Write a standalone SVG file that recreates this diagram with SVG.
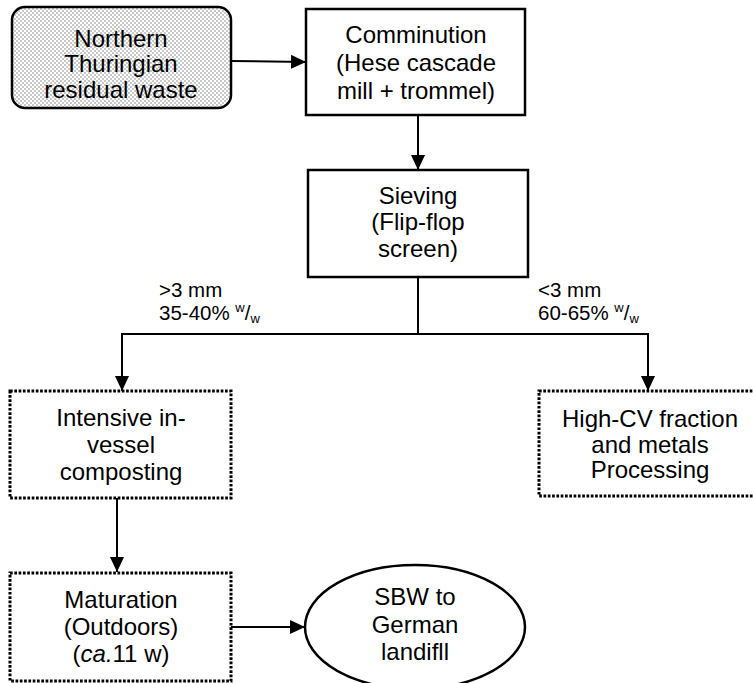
<svg xmlns="http://www.w3.org/2000/svg" width="753" height="683" viewBox="0 0 753 683">
<style>
.t{font-family:"Liberation Sans",Arial,sans-serif;font-size:24px;fill:#000;text-anchor:middle}
.l{font-family:"Liberation Sans",Arial,sans-serif;font-size:20.5px;fill:#000}
.box{fill:#fff;stroke:#000;stroke-width:2.5}
.dot{fill:#fff;stroke:#000;stroke-width:3;stroke-dasharray:2.7 1.6}
.c{fill:none;stroke:#000;stroke-width:2}
</style>
<defs>
<pattern id="stip" width="4" height="4" patternUnits="userSpaceOnUse">
<rect width="4" height="4" fill="#fff"/>
<rect x="0.4" y="0.4" width="1.2" height="1.2" fill="#666"/>
<rect x="2.4" y="2.4" width="1.2" height="1.2" fill="#666"/>
</pattern>
<marker id="ah" viewBox="0 0 15 14" refX="15" refY="7" markerWidth="15" markerHeight="14" markerUnits="userSpaceOnUse" orient="auto">
<path d="M0,0 L15,7 L0,14 Z" fill="#000"/>
</marker>
</defs>
<g id="connectors">
<line class="c" x1="231" y1="61" x2="306" y2="62" marker-end="url(#ah)"/>
<line class="c" x1="418" y1="115" x2="418" y2="170" marker-end="url(#ah)"/>
<polyline class="c" points="418,277 418,334 122,334 122,391" marker-end="url(#ah)"/>
<polyline class="c" points="418,334 648,334 648,391" marker-end="url(#ah)"/>
<line class="c" x1="117" y1="498" x2="117" y2="572" marker-end="url(#ah)"/>
<line class="c" x1="231" y1="627" x2="305" y2="627" marker-end="url(#ah)"/>
</g>
<g id="labels">
<text class="l" x="159" y="297">&gt;3 mm</text>
<text class="l" x="159" y="320">35-40% <tspan font-size="13" dy="-8">w</tspan><tspan dy="8">/</tspan><tspan font-size="13" dy="3">w</tspan></text>
<text class="l" x="538" y="297">&lt;3 mm</text>
<text class="l" x="538" y="320">60-65% <tspan font-size="13" dy="-8">w</tspan><tspan dy="8">/</tspan><tspan font-size="13" dy="3">w</tspan></text>
</g>
<g id="waste">
<rect x="12" y="7" width="219" height="101" rx="13" ry="13" fill="url(#stip)" stroke="#000" stroke-width="2.5"/>
<text class="t" x="121" y="47" fill="#222">Northern</text>
<text class="t" x="121" y="72">Thuringian</text>
<text class="t" x="121" y="98">residual waste</text>
</g>
<g id="comminution">
<rect class="box" x="306" y="9" width="219" height="106"/>
<text class="t" x="416" y="43">Comminution</text>
<text class="t" x="416" y="71">(Hese cascade</text>
<text class="t" x="416" y="99">mill + trommel)</text>
</g>
<g id="sieving">
<rect class="box" x="308" y="170" width="220" height="107"/>
<text class="t" x="418" y="204">Sieving</text>
<text class="t" x="418" y="230">(Flip-flop</text>
<text class="t" x="418" y="257">screen)</text>
</g>
<g id="composting">
<rect class="dot" x="10" y="391" width="221" height="107"/>
<text class="t" x="121" y="426">Intensive in-</text>
<text class="t" x="121" y="453">vessel</text>
<text class="t" x="121" y="480">composting</text>
</g>
<g id="highcv">
<rect class="dot" x="539" y="391" width="222" height="105"/>
<text class="t" x="650" y="427">High-CV fraction</text>
<text class="t" x="650" y="453">and metals</text>
<text class="t" x="650" y="478">Processing</text>
</g>
<g id="maturation">
<rect class="dot" x="10" y="573" width="221" height="108"/>
<text class="t" x="121" y="608">Maturation</text>
<text class="t" x="121" y="635">(Outdoors)</text>
<text class="t" x="121" y="662">(<tspan font-style="italic">ca.</tspan>11 w)</text>
</g>
<g id="landfill">
<ellipse cx="415" cy="627" rx="110" ry="62" fill="#fff" stroke="#000" stroke-width="2.5"/>
<text class="t" x="415" y="605">SBW to</text>
<text class="t" x="415" y="633">German</text>
<text class="t" x="415" y="660">landifll</text>
</g>
</svg>
